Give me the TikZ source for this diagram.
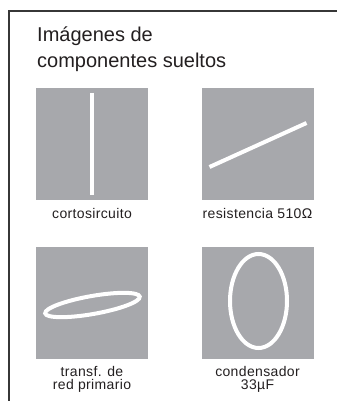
\documentclass[tikz,border=0pt]{standalone}
\usepackage{fontspec}
\setmainfont{Liberation Sans}
\usepackage{xcolor}
\usetikzlibrary{positioning, calc}

\definecolor{panelgray}{RGB}{167,168,172}
\definecolor{framegray}{RGB}{55,55,55}
\definecolor{inkgray}{RGB}{35,31,32}

\begin{document}
\begin{tikzpicture}[
  x=1pt, y=-1pt,
  every node/.style={text=inkgray},
  panel/.style={rectangle, fill=panelgray, minimum size=112pt, inner sep=0pt},
  caption/.style={font=\fontsize{14}{13}\selectfont\addfontfeature{LetterSpace=2.5},
                  align=center, inner sep=0pt, anchor=north},
  wire/.style={white, line width=4pt},
]
\useasboundingbox (0,0) rectangle (337,401);

% open frame
\draw[framegray, line width=1.2pt] (9,401) -- (9,11) -- (337,11);

\node[anchor=north west, inner sep=0pt, align=left,
      font=\fontsize{20}{26}\selectfont] (title) at (37,27)
  {Imágenes de\\componentes sueltos};

% panels
\node[panel] (short) at (92,144)    {};
\node[panel] (resis) at (257.5,144) {};
\node[panel] (trafo) at (92,302.5)  {};
\node[panel] (cond)  at (257.5,302.5) {};

% component images
\draw[wire] ([yshift=-5pt]short.north) -- ([yshift=5pt]short.south);
\draw[wire] ([shift={(-48pt,-23pt)}]resis.center) -- ([shift={(49pt,21pt)}]resis.center);
\draw[wire, rotate around={10:([yshift=-2.5pt]trafo.center)}]
  ([yshift=-2.5pt]trafo.center) ellipse[x radius=48pt, y radius=9pt];
\draw[wire] ([shift={(1pt,1.5pt)}]cond.center) ellipse[x radius=28.5pt, y radius=47pt];

% captions
\node[caption, below=7.5pt of short] (l1) {cortosircuito};
\node[caption, below=7.5pt of resis] (l2) {resistencia 510Ω};
\node[caption, below=7pt of trafo] (l3) {transf. de\\red primario};
\node[caption, below=7pt of cond]  (l4) {condensador\\33µF};
\end{tikzpicture}
\end{document}
